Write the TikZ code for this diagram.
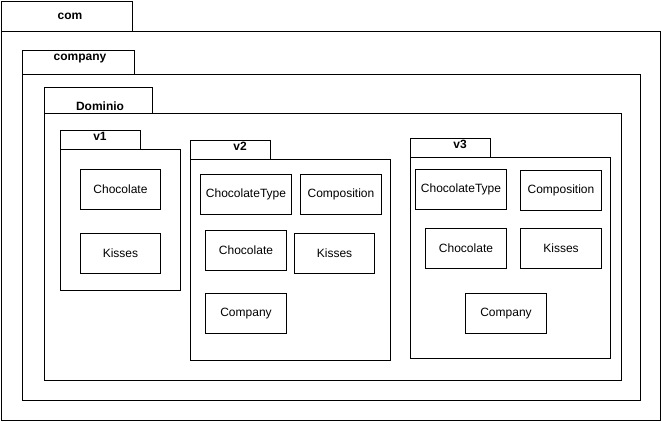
\documentclass[tikz,border=0pt]{standalone}
\usepackage{fontspec}
\setmainfont{Liberation Sans}
\begin{document}
\begin{tikzpicture}[x=1pt,y=-1pt,
  box/.style={draw, line width=1pt, inner sep=0pt, anchor=north west, fill=white},
  cls/.style={font=\fontsize{12}{14}\selectfont},
  pkg/.style={font=\bfseries\fontsize{12}{14}\selectfont}]
\useasboundingbox (0,0) rectangle (661,421);
% com
\node[box, minimum width=131pt, minimum height=30pt] (comtab) at (1,1) {};
\node[box, minimum width=659pt, minimum height=389pt] (combody) at (1,31) {};
\node[pkg] (comlbl) at (70,16) {com};
% company
\node[box, minimum width=112pt, minimum height=24pt] (cotab) at (22,50) {};
\node[box, minimum width=618pt, minimum height=326pt] (cobody) at (22,74) {};
\node[pkg] (colbl) at (80,59) {company};
% Dominio
\node[box, minimum width=108pt, minimum height=26pt] (dotab) at (44,87) {};
\node[box, minimum width=577pt, minimum height=267pt] (dobody) at (44,113) {};
\node[pkg] (dolbl) at (100,106) {Dominio};
% v1
\node[box, minimum width=80pt, minimum height=19pt] (v1tab) at (60,130) {};
\node[box, minimum width=120pt, minimum height=141pt] (v1body) at (60,149) {};
\node[pkg] (v1lbl) at (100,136) {v1};
\node[box, cls, minimum width=80pt, minimum height=40pt] (v1choc) at (80,169) {Chocolate};
\node[box, cls, minimum width=80pt, minimum height=40pt] (v1kiss) at (80,233) {Kisses};
% v2
\node[box, minimum width=80pt, minimum height=19pt] (v2tab) at (190,140) {};
\node[box, minimum width=200pt, minimum height=201pt] (v2body) at (190,159) {};
\node[pkg] (v2lbl) at (240,146) {v2};
\node[box, cls, minimum width=91pt, minimum height=40pt] (v2type) at (200,174) {ChocolateType};
\node[box, cls, minimum width=81pt, minimum height=40pt] (v2comp) at (300,174) {Composition};
\node[box, cls, minimum width=81pt, minimum height=40pt] (v2choc) at (205,230) {Chocolate};
\node[box, cls, minimum width=80pt, minimum height=40pt] (v2kiss) at (294,233) {Kisses};
\node[box, cls, minimum width=81pt, minimum height=40pt] (v2company) at (205,293) {Company};
% v3
\node[box, minimum width=80pt, minimum height=19pt] (v3tab) at (410,138) {};
\node[box, minimum width=200pt, minimum height=201pt] (v3body) at (410,157) {};
\node[pkg] (v3lbl) at (460,144) {v3};
\node[box, cls, minimum width=91pt, minimum height=40pt] (v3type) at (415,169) {ChocolateType};
\node[box, cls, minimum width=81pt, minimum height=40pt] (v3comp) at (520,170) {Composition};
\node[box, cls, minimum width=81pt, minimum height=40pt] (v3choc) at (425,228) {Chocolate};
\node[box, cls, minimum width=81pt, minimum height=40pt] (v3kiss) at (520,228) {Kisses};
\node[box, cls, minimum width=81pt, minimum height=40pt] (v3company) at (465,293) {Company};
\end{tikzpicture}
\end{document}
